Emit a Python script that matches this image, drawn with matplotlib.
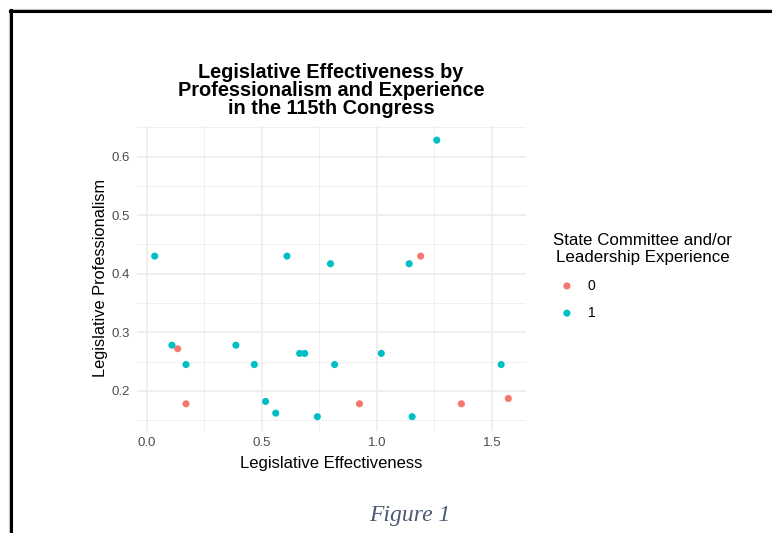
import matplotlib
matplotlib.use("Agg")
import matplotlib.pyplot as plt
from matplotlib.lines import Line2D
import numpy as np

# Data
effectiveness = [0.035, 0.110, 0.135, 0.171, 0.171, 0.388, 0.468, 0.517, 0.561, 0.610,
                 0.665, 0.687, 0.742, 0.799, 0.817, 0.925, 1.020, 1.141, 1.154, 1.191,
                 1.261, 1.368, 1.541, 1.572]
professionalism = [0.430, 0.278, 0.272, 0.245, 0.178, 0.278, 0.245, 0.182, 0.162, 0.430,
                   0.264, 0.264, 0.156, 0.417, 0.245, 0.178, 0.264, 0.417, 0.156, 0.430,
                   0.628, 0.178, 0.245, 0.187]
experience = [1, 1, 0, 1, 0, 1, 1, 1, 1, 1,
              1, 1, 1, 1, 1, 0, 1, 1, 1, 0,
              1, 0, 1, 0]
categories = [0, 1]
colors = ["#F8766D", "#00BFC4"]

W, H = 772, 533
fig = plt.figure(figsize=(W / 100, H / 100), dpi=100)
plt.rcParams['font.family'] = ['Liberation Sans', 'DejaVu Sans']

def px(x0, y0, x1, y1):
    return [x0 / W, 1 - y1 / H, (x1 - x0) / W, (y1 - y0) / H]

ax = fig.add_axes(px(137, 126.3, 526, 430.5))
eff = np.array(effectiveness)
prof = np.array(professionalism)
exp_ = np.array(experience)
for cat, col in zip(categories, colors):
    m = exp_ == cat
    ax.scatter(eff[m], prof[m], s=26, color=col, edgecolors='none', label=str(cat), zorder=3)

xr = eff.max() - eff.min()
yr = prof.max() - prof.min()
ax.set_xlim(eff.min() - 0.05 * xr, eff.max() + 0.05 * xr)
ax.set_ylim(prof.min() - 0.05 * yr, prof.max() + 0.05 * yr)
ax.set_xticks([0.0, 0.5, 1.0, 1.5])
ax.set_xticklabels(["0.0", "0.5", "1.0", "1.5"])
ax.set_yticks([0.2, 0.3, 0.4, 0.5, 0.6])
ax.set_yticklabels(["0.2", "0.3", "0.4", "0.5", "0.6"])
ax.set_xticks([0.25, 0.75, 1.25], minor=True)
ax.set_yticks([0.15, 0.25, 0.35, 0.45, 0.55, 0.65], minor=True)
ax.grid(True, which='major', color='#ebebeb', lw=1.1)
ax.grid(True, which='minor', color='#ebebeb', lw=0.55)
ax.set_axisbelow(True)
for s in ax.spines.values():
    s.set_visible(False)
ax.tick_params(which='both', length=0, labelsize=9.5, labelcolor='#4d4d4d')
ax.tick_params(axis='x', pad=5)
ax.tick_params(axis='y', pad=5)
ax.set_xlabel("Legislative Effectiveness", fontsize=12, color='black', labelpad=5)
ax.set_ylabel("Legislative Professionalism", fontsize=11.8, color='black', labelpad=3)

fig.text(331 / W, 1 - 90.5 / H,
         "Legislative Effectiveness by\nProfessionalism and Experience\nin the 115th Congress",
         ha='center', va='center', fontsize=14.3, fontweight='bold', linespacing=0.95)

leg = fig.legend(loc='upper left', bbox_to_anchor=(553 / W, 1 - 233 / H),
                 title="State Committee and/or\nLeadership Experience",
                 frameon=False, fontsize=10, title_fontsize=12.2,
                 handletextpad=0.5, labelspacing=0.95, markerscale=1.0,
                 scatterpoints=1, borderpad=0, borderaxespad=0)
leg.get_title().set_multialignment('center')
leg._legend_box.align = 'left'

fig.text(410 / W, 1 - 515 / H, "Figure 1", ha='center', va='center',
         fontsize=17, fontstyle='italic', family='Liberation Serif', color='#4a5874')

# page frame
fig.add_artist(Line2D([8.5 / W, 8.5 / W], [0, 1 - 9 / H], color='#c8c8c8', lw=0.8))
fig.add_artist(Line2D([8.5 / W, 1], [1 - 9 / H, 1 - 9 / H], color='#c8c8c8', lw=0.8))
fig.add_artist(Line2D([10.5 / W, 10.5 / W], [0, 1 - 10 / H], color='black', lw=2.2))
fig.add_artist(Line2D([9.5 / W, 1], [1 - 11.3 / H, 1 - 11.3 / H], color='black', lw=2.2))

fig.savefig("out.png", dpi=100)
